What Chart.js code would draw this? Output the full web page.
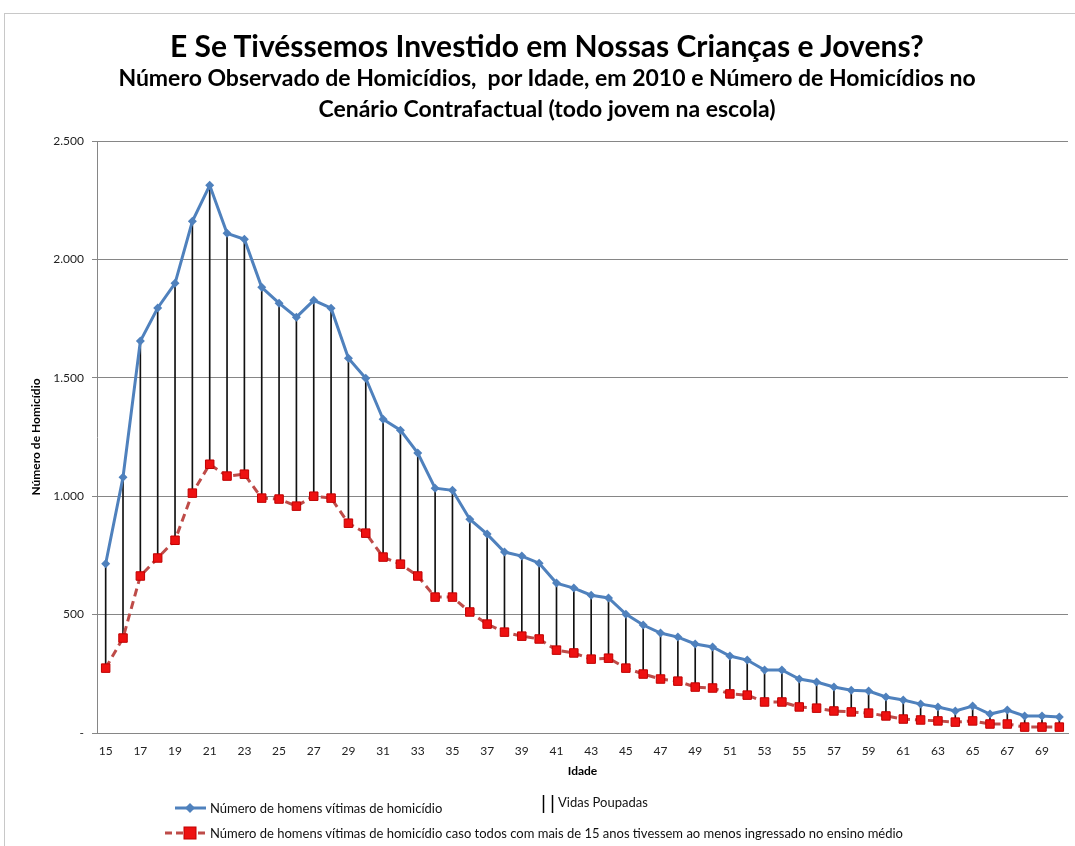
<!DOCTYPE html>
<html>
<head>
<meta charset="utf-8">
<script src="https://cdn.jsdelivr.net/npm/chart.js@4"></script>
<style>
  body { margin: 0; background: #fff; font-family: Lato, "Open Sans", sans-serif; }
  #wrap { position: relative; width: 1075px; height: 846px; overflow: hidden; }
  #frame { position: absolute; left: 4px; top: 13px; width: 1080px; height: 840px;
           border-left: 1px solid #c8c8c8; border-top: 1px solid #c8c8c8; }
  canvas { position: absolute; left: 0; top: 0; }
  .t { position: absolute; left: 0; width: 1094px; text-align: center; font-weight: bold; color: #000; white-space: nowrap; }
  .lg { position: absolute; font-size: 13px; color: #111; white-space: nowrap; }
  svg { position: absolute; overflow: visible; }
</style>
</head>
<body>
<div id="wrap">
  <div id="frame"></div>
  <canvas id="chart" width="1075" height="846"></canvas>
  <div class="t" style="top:27px;font-size:30px;">E Se Tivéssemos Investido em Nossas Crianças e Jovens?</div>
  <div class="t" style="top:63px;font-size:23px;">Número Observado de Homicídios,&nbsp; por Idade, em 2010 e Número de Homicídios no</div>
  <div class="t" style="top:94px;font-size:23px;">Cenário Contrafactual (todo jovem na escola)</div>

  <svg style="left:0;top:0" width="1075" height="846">
    <line x1="175" y1="808" x2="206" y2="808" stroke="#4f81bd" stroke-width="3"/>
    <polygon points="190,803 195,808 190,813 185,808" fill="#4f81bd"/>
    <line x1="543.5" y1="795" x2="543.5" y2="813" stroke="#000" stroke-width="1.5"/>
    <line x1="552.5" y1="795" x2="552.5" y2="813" stroke="#000" stroke-width="1.5"/>
    <line x1="165" y1="833" x2="206" y2="833" stroke="#be4b48" stroke-width="3" stroke-dasharray="7,4"/>
    <rect x="184" y="827" width="12" height="12" fill="#ee1111" stroke="#c00000" stroke-width="1"/>
  </svg>
  <div class="lg" style="left:210px;top:800px;">Número de homens vítimas de homicídio</div>
  <div class="lg" style="left:558px;top:794px;">Vidas Poupadas</div>
  <div class="lg" style="left:210px;top:825px;">Número de homens vítimas de homicídio caso todos com mais de 15 anos tivessem ao menos ingressado no ensino médio</div>
</div>
<script>
const ages = ['15','16','17','18','19','20','21','22','23','24','25','26','27','28','29','30',
  '31','32','33','34','35','36','37','38','39','40','41','42','43','44','45','46','47','48','49','50',
  '51','52','53','54','55','56','57','58','59','60','61','62','63','64','65','66','67','68','69','70'];

const observed = [715, 1080, 1655, 1795, 1899, 2161, 2313, 2110, 2085, 1882, 1815, 1756, 1827, 1794, 1583, 1498,
  1325, 1279, 1182, 1034, 1025, 903, 840, 764, 747, 717, 633, 612, 582, 570, 502, 456, 422, 405, 376, 363,
  325, 308, 266, 266, 228, 215, 194, 181, 177, 152, 139, 122, 110, 93, 114, 80, 97, 72, 72, 68];

const counterfactual = [274, 401, 663, 739, 814, 1013, 1135, 1085, 1093, 992, 988, 958, 1000, 992, 886, 844,
  743, 713, 663, 574, 574, 511, 460, 426, 409, 397, 350, 338, 312, 316, 274, 249, 228, 219, 194, 190,
  165, 160, 131, 131, 110, 105, 93, 89, 84, 72, 59, 55, 51, 46, 51, 38, 38, 25, 25, 25];

const yTicks = [0, 500, 1000, 1500, 2000, 2500];

function fmt(v) {
  if (v === 0) return '-';
  return String(v).replace(/\B(?=(\d{3})+(?!\d))/g, '.');
}

const saved = ages.map((a, i) => [counterfactual[i], observed[i]]);

new Chart(document.getElementById('chart'), {
  data: {
    labels: ages,
    datasets: [
      {
        type: 'line',
        label: 'Número de homens vítimas de homicídio',
        data: observed,
        borderColor: '#4f81bd',
        backgroundColor: '#4f81bd',
        borderWidth: 3,
        pointStyle: 'rectRot',
        pointRadius: 4.5,
        pointBorderWidth: 0,
        tension: 0,
        order: 1
      },
      {
        type: 'line',
        label: 'Número de homens vítimas de homicídio caso todos com mais de 15 anos tivessem ao menos ingressado no ensino médio',
        data: counterfactual,
        borderColor: '#be4b48',
        borderDash: [8, 5],
        borderWidth: 3,
        pointStyle: 'rect',
        pointRadius: 6,
        pointBackgroundColor: '#ee1111',
        pointBorderColor: '#c00000',
        pointBorderWidth: 1,
        tension: 0,
        order: 2
      },
      {
        type: 'bar',
        label: 'Vidas Poupadas',
        data: saved,
        backgroundColor: '#111',
        barThickness: 1,
        order: 3
      }
    ]
  },
  options: {
    responsive: false,
    animation: false,
    layout: { padding: { top: 141, left: 25, right: 0, bottom: 64 } },
    plugins: { legend: { display: false }, tooltip: { enabled: false } },
    scales: {
      x: {
        offset: true,
        grid: { display: false },
        border: { color: '#868686', width: 1 },
        ticks: {
          autoSkip: false, maxRotation: 0, padding: 3,
          color: '#222', font: { family: 'Lato', size: 12 },
          callback: (v, i) => (i % 2 === 0 ? ages[i] : '')
        },
        title: { display: true, text: 'Idade', color: '#000', font: { family: 'Lato', size: 12, weight: 'bold' }, padding: 4 },
        afterFit: s => { s.height = 49; }
      },
      y: {
        min: 0, max: 2500,
        afterBuildTicks: s => { s.ticks = yTicks.map(v => ({ value: v })); },
        grid: { color: '#868686', lineWidth: 1, tickLength: 5 },
        border: { color: '#868686', width: 1 },
        ticks: { padding: 8, color: '#222', font: { family: 'Lato', size: 12 }, callback: v => fmt(v) },
        title: { display: true, text: 'Número de Homicídio', color: '#000', font: { family: 'Lato', size: 12, weight: 'bold' }, padding: 4 },
        afterFit: s => { s.width = 72; }
      }
    }
  }
});
</script>
</body>
</html>
